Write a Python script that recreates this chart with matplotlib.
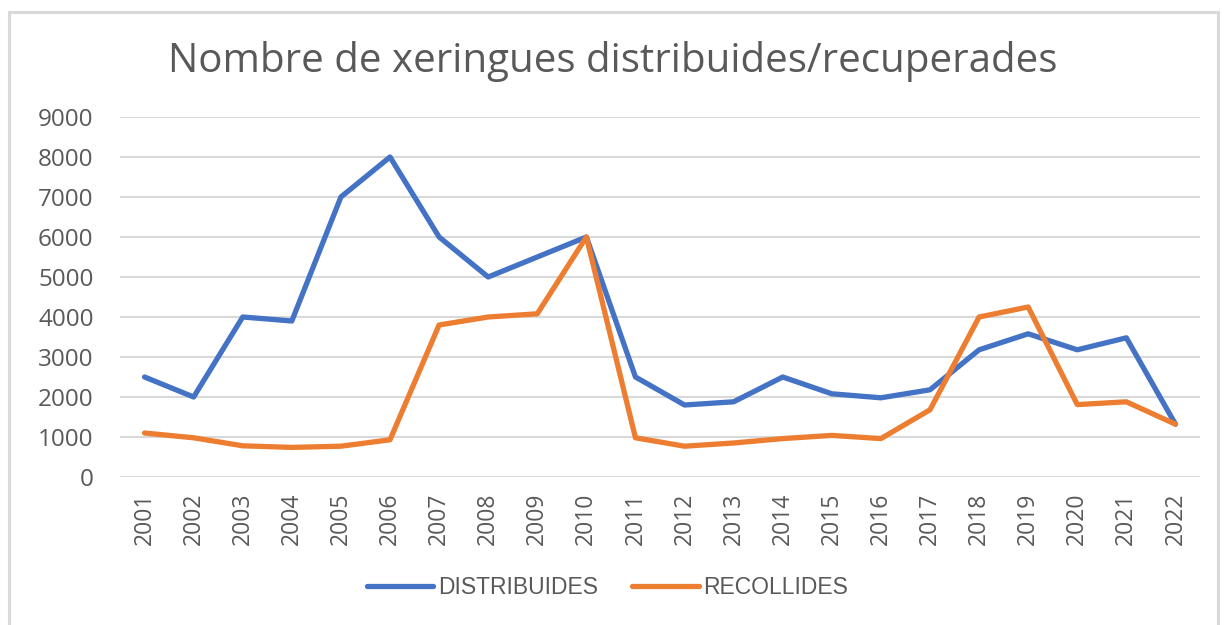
import matplotlib
matplotlib.use("Agg")
import matplotlib.pyplot as plt
from matplotlib.patches import Rectangle

years = [str(y) for y in range(2001, 2023)]
distribuides = [2500, 2000, 4000, 3900, 7000, 8000, 6000, 5000, 5500, 6000,
                2500, 1800, 1880, 2500, 2080, 1980, 2180, 3180, 3580, 3180, 3480, 1320]
recollides = [1100, 980, 780, 740, 770, 930, 3800, 4000, 4080, 6000,
              980, 770, 850, 960, 1040, 960, 1680, 4000, 4250, 1810, 1880, 1320]
yticks = list(range(0, 10000, 1000))

BLUE = "#4472C4"
ORANGE = "#ED7D31"
GREY = "#595959"

W, H = 1226, 625
fig = plt.figure(figsize=(W / 100, H / 100), dpi=100)
ax = fig.add_axes([120 / W, 1 - 477 / H, 1080 / W, 360 / H])

x = range(len(years))
l1, = ax.plot(x, distribuides, color=BLUE, lw=3.8, solid_capstyle="round",
              solid_joinstyle="round", label="DISTRIBUIDES")
l2, = ax.plot(x, recollides, color=ORANGE, lw=3.8, solid_capstyle="round",
              solid_joinstyle="round", label="RECOLLIDES")

ax.set_xlim(-0.5, len(years) - 0.5)
ax.set_ylim(0, 9000)
ax.set_yticks(yticks)
ax.set_yticklabels([str(v) for v in yticks], fontsize=17.5, color=GREY, family="Open Sans")
ax.set_xticks(list(x))
ax.set_xticklabels(years, rotation=90, fontsize=16.5, color=GREY, family="Open Sans")
ax.tick_params(axis="y", length=0, pad=19)
ax.tick_params(axis="x", length=0, pad=11)
ax.grid(axis="y", color="#D9D9D9", lw=1.5)
ax.set_axisbelow(True)
for s in ax.spines.values():
    s.set_visible(False)

fig.text(0.5, 1 - 72 / H, "Nombre de xeringues distribuides/recuperades",
         ha="center", va="baseline", fontsize=29, color=GREY, family="Open Sans")

leg = fig.legend(handles=[l1, l2], loc="center", bbox_to_anchor=(0.4955, 1 - 588 / H),
                 ncol=2, frameon=False, handlelength=2.9, columnspacing=1.5,
                 handletextpad=0.2, prop={"family": "Liberation Sans", "size": 16.5})
for t in leg.get_texts():
    t.set_color(GREY)

# chart outer border
fig.patches.append(Rectangle((8.5 / W, -0.05), 1209 / W, 1.05 - 11.5 / H,
                             transform=fig.transFigure, fill=False,
                             edgecolor="#D9D9D9", lw=2.2))

fig.savefig("out.png", dpi=100)
